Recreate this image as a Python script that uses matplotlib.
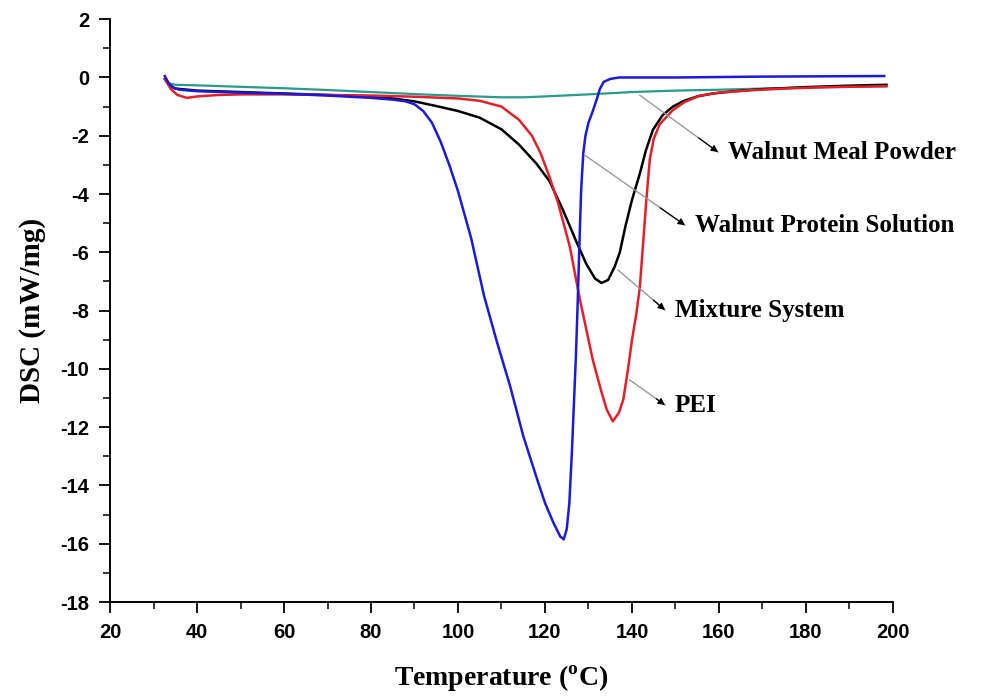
import matplotlib
matplotlib.use('Agg')
import matplotlib.pyplot as plt
from matplotlib.ticker import MultipleLocator

# values
wmp_t = [32.6, 33.5, 35, 40, 50, 60, 70, 80, 90, 100, 110, 115, 120, 130, 140,
         150, 160, 170, 180, 190, 198.5]
wmp_dsc = [-0.05, -0.2, -0.25, -0.27, -0.32, -0.37, -0.43, -0.5, -0.57, -0.63,
           -0.68, -0.68, -0.65, -0.58, -0.5, -0.45, -0.42, -0.38, -0.35, -0.32, -0.3]

wps_t = [32.6, 33.5, 34.5, 36, 40, 50, 60, 70, 80, 85, 88, 90, 92, 94, 96, 98,
         100, 103, 106, 109, 112, 115, 118, 120, 122, 123.5, 124.3, 125, 125.6,
         126.2, 126.7, 127.1, 127.5, 127.9, 128.3, 128.8, 129.3, 130, 131, 132,
         132.6, 133.5, 135, 137, 150, 170, 198]
wps_dsc = [0.05, -0.2, -0.35, -0.42, -0.47, -0.52, -0.56, -0.62, -0.7, -0.76,
           -0.82, -0.92, -1.15, -1.55, -2.2, -3.0, -3.9, -5.5, -7.5, -9.1, -10.6,
           -12.3, -13.7, -14.6, -15.3, -15.75, -15.85, -15.5, -14.6, -12.8, -11.0,
           -9.6, -7.8, -5.8, -3.9, -2.6, -2.0, -1.55, -1.15, -0.7, -0.4, -0.15,
           -0.05, 0.0, 0.0, 0.03, 0.05]

mix_t = [32.6, 33.5, 35, 40, 50, 60, 70, 80, 85, 90, 95, 100, 105, 110, 114,
         118, 121, 124, 127.4, 129.5, 131.5, 133, 134.5, 136, 137.2, 138.5, 140,
         141.8, 143.2, 144.8, 147, 149.4, 152, 155, 158.6, 163, 170, 180, 190, 198.5]
mix_dsc = [-0.05, -0.25, -0.38, -0.45, -0.5, -0.55, -0.6, -0.66, -0.72, -0.82,
           -0.98, -1.15, -1.38, -1.78, -2.3, -2.95, -3.55, -4.5, -5.7, -6.4, -6.9,
           -7.05, -6.95, -6.5, -6.0, -5.1, -4.2, -3.3, -2.5, -1.8, -1.3, -1.0,
           -0.8, -0.65, -0.55, -0.48, -0.4, -0.33, -0.28, -0.25]

pei_t = [32.6, 34, 35.5, 37.7, 40, 45, 50, 60, 70, 80, 90, 100, 105, 110, 114,
         117, 119, 121, 123, 125.7, 128, 131, 133, 134.2, 135.6, 137, 138, 139.1,
         140, 141, 141.8, 142.5, 143.3, 144.1, 145, 146.4, 149.4, 152, 155.6, 160,
         167, 175, 185, 198.5]
pei_dsc = [-0.05, -0.4, -0.6, -0.7, -0.65, -0.6, -0.58, -0.58, -0.6, -0.62,
           -0.66, -0.72, -0.8, -1.0, -1.45, -2.0, -2.6, -3.4, -4.3, -5.8, -7.6,
           -9.7, -10.8, -11.4, -11.8, -11.5, -11.05, -10.0, -9.0, -8.1, -7.2, -5.8,
           -4.2, -2.8, -2.1, -1.6, -1.12, -0.85, -0.62, -0.52, -0.44, -0.38, -0.33, -0.3]

# label text, start of leader line (on curve), arrow tip
labels = ['Walnut Meal Powder', 'Walnut Protein Solution', 'Mixture System', 'PEI']
lead_start = [(141.8, -0.61), (129.2, -2.67), (136.8, -6.61), (139.5, -10.38)]
lead_end = [(159.8, -2.56), (152.2, -5.07), (147.6, -7.98), (147.6, -11.24)]

plt.rcParams['axes.unicode_minus'] = False
plt.rcParams['mathtext.fontset'] = 'custom'
plt.rcParams['mathtext.rm'] = 'Liberation Serif:bold'

fig = plt.figure(figsize=(9.84, 6.98), dpi=100)
ax = fig.add_axes([0.1118, 0.1375, 0.7957, 0.835])

ax.plot(wmp_t, wmp_dsc, color='#2a9a8a', lw=1.6)
ax.plot(mix_t, mix_dsc, color='black', lw=1.8)
ax.plot(pei_t, pei_dsc, color='#e3202a', lw=1.8)
ax.plot(wps_t, wps_dsc, color='#1c1ad8', lw=1.8)

for lab, s, e in zip(labels, lead_start, lead_end):
    ax.plot([s[0], e[0]], [s[1], e[1]], color='#9a9a9a', lw=1.0)
    ax.annotate('', xy=e, xytext=(e[0] - 0.25 * (e[0] - s[0]), e[1] - 0.25 * (e[1] - s[1])),
                arrowprops=dict(arrowstyle='-|>', color='black', lw=0.9,
                                mutation_scale=10, shrinkA=0, shrinkB=0))
    ax.text(e[0] + 2.2, e[1], lab, fontsize=18, fontweight='bold',
            family='Liberation Serif', va='center', ha='left')

ax.set_xlim(20, 200)
ax.set_ylim(-18, 2)
ax.xaxis.set_major_locator(MultipleLocator(20))
ax.xaxis.set_minor_locator(MultipleLocator(10))
ax.yaxis.set_major_locator(MultipleLocator(2))
ax.yaxis.set_minor_locator(MultipleLocator(1))

for side in ['top', 'right']:
    ax.spines[side].set_visible(False)
for side in ['left', 'bottom']:
    ax.spines[side].set_linewidth(1.4)
ax.tick_params(which='major', direction='out', length=8, width=1.3, pad=7)
ax.tick_params(which='minor', direction='out', length=5, width=1.1)
for lbl in ax.get_xticklabels() + ax.get_yticklabels():
    lbl.set_family('Liberation Sans')
    lbl.set_fontweight('bold')
    lbl.set_fontsize(14.5)

ax.set_xlabel(r'Temperature ($^{\mathrm{o}}$C)', fontsize=20, fontweight='bold',
              family='Liberation Serif', labelpad=16)
ax.set_ylabel('DSC (mW/mg)', fontsize=21, fontweight='bold',
              family='Liberation Serif', labelpad=10)

fig.savefig('out.png', dpi=100)
